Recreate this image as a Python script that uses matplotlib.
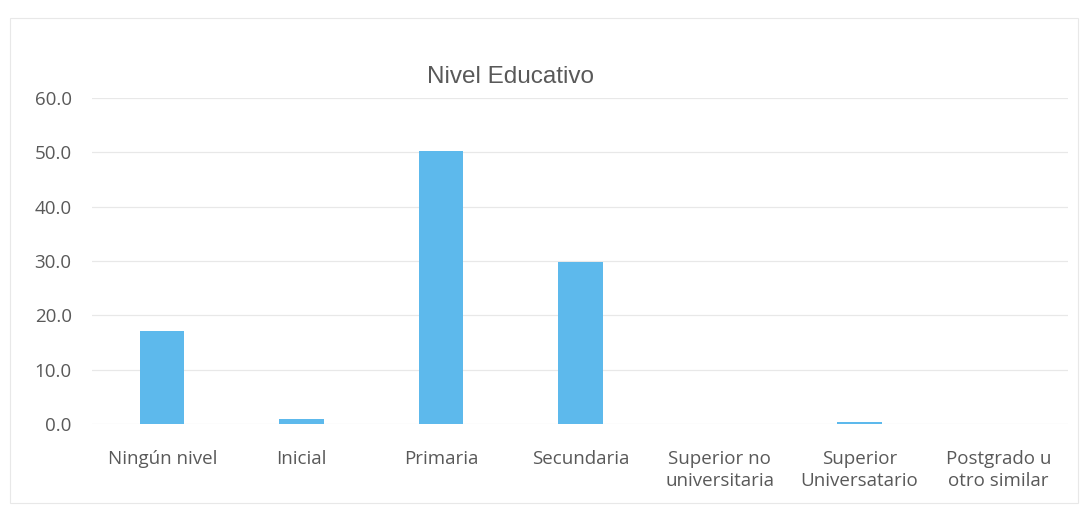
import matplotlib
matplotlib.use("Agg")
import matplotlib.pyplot as plt
from matplotlib.patches import Rectangle

categories = ["Ningún nivel", "Inicial", "Primaria", "Secundaria",
              "Superior no\nuniversitaria", "Superior\nUniversatario",
              "Postgrado u\notro similar"]
values = [17.2, 1.0, 50.3, 29.9, 0.0, 0.3, 0.0]
yticks = [0, 10, 20, 30, 40, 50, 60]
title = "Nivel Educativo"

grey = "#595959"
bar_color = "#5DB9EC"
lab_font = ["Open Sans", "DejaVu Sans"]

fig = plt.figure(figsize=(10.88, 5.08), dpi=100)
fig.patch.set_facecolor("white")
ax = fig.add_axes([0.085, 0.1654, 0.897, 0.6417])

x = list(range(len(categories)))
ax.bar(x, values, width=0.32, color=bar_color, zorder=3)
ax.set_xlim(-0.5, len(categories) - 0.5)
ax.set_ylim(0, 60)
ax.set_yticks(yticks)
ax.set_yticklabels([f"{v:.1f}" for v in yticks], fontsize=13.5,
                   color=grey, family=lab_font)
ax.set_xticks(x)
ax.set_xticklabels(categories, fontsize=13.5, color=grey,
                   family=lab_font, linespacing=1.25, va="top")
ax.tick_params(axis="y", length=0, pad=15)
ax.tick_params(axis="x", length=0, pad=19)
for s in ax.spines.values():
    s.set_visible(False)
ax.grid(axis="y", color="#E8E8E8", linewidth=0.9, zorder=0)
ax.set_axisbelow(True)

fig.text(0.469, 0.848, title, ha="center", va="center", fontsize=17.5,
         color=grey, family=["Liberation Sans Narrow", "Liberation Sans", "DejaVu Sans"])

fig.patches.append(Rectangle((0.009, 0.01), 0.982, 0.955, transform=fig.transFigure,
                             fill=False, edgecolor="#E8E8E8", linewidth=0.8))

fig.savefig("out.png", dpi=100)
